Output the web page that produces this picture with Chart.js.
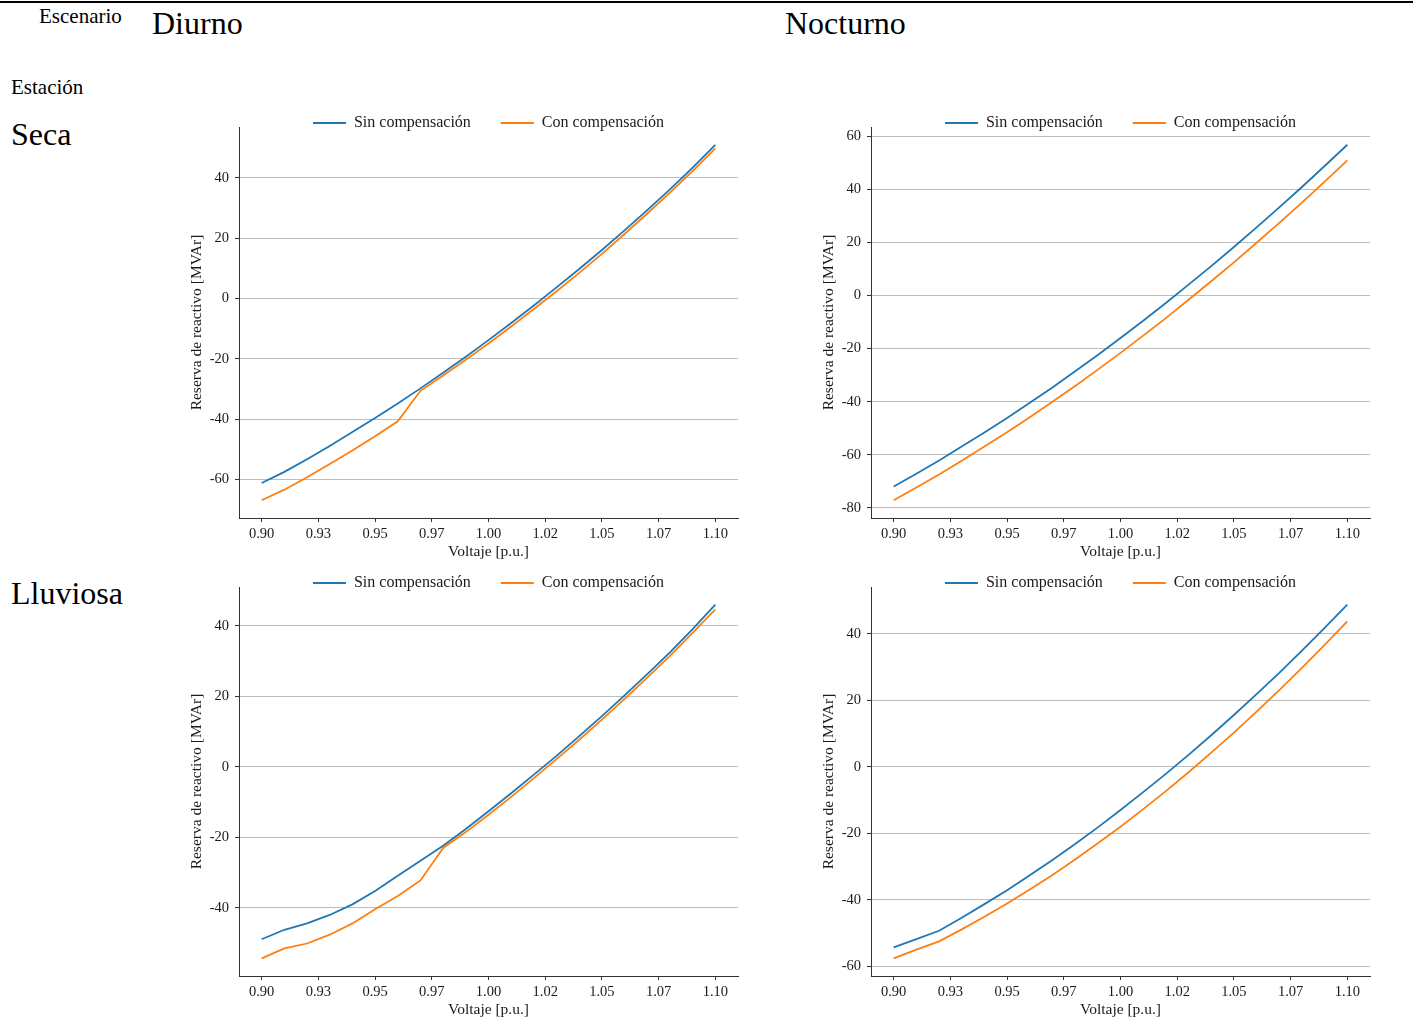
<!DOCTYPE html>
<html>
<head>
<meta charset="utf-8">
<script src="https://cdn.jsdelivr.net/npm/chart.js@4.4.1/dist/chart.umd.min.js"></script>
<style>
html,body{margin:0;padding:0;background:#fff;}
body{width:1413px;height:1032px;position:relative;overflow:hidden;font-family:'Liberation Serif','Times New Roman',serif;color:#000;}
.rule{position:absolute;left:0;top:1px;width:1413px;height:2px;background:#000;}
.lbl{position:absolute;line-height:1;white-space:nowrap;}
canvas{position:absolute;}
</style>
</head>
<body>
<div class="rule"></div>
<div class="lbl" style="left:39px;top:6px;font-size:21px">Escenario</div>
<div class="lbl" style="left:152px;top:7px;font-size:32px">Diurno</div>
<div class="lbl" style="left:785px;top:7px;font-size:32px">Nocturno</div>
<div class="lbl" style="left:11px;top:77px;font-size:21px">Estación</div>
<div class="lbl" style="left:11px;top:118px;font-size:32px">Seca</div>
<div class="lbl" style="left:11px;top:577px;font-size:32px">Lluviosa</div>
<canvas id="c_seca_diurno"></canvas>
<canvas id="c_seca_nocturno"></canvas>
<canvas id="c_lluviosa_diurno"></canvas>
<canvas id="c_lluviosa_nocturno"></canvas>
<script>
// ---------------- data ----------------
const VOLTAGE = [0.90,0.91,0.92,0.93,0.94,0.95,0.96,0.97,0.98,0.99,1.00,1.01,1.02,1.03,1.04,1.05,1.06,1.07,1.08,1.09,1.10];
const X_TICKS = [0.900,0.925,0.950,0.975,1.000,1.025,1.050,1.075,1.100];
const X_TICK_LABELS = ['0.90','0.93','0.95','0.97','1.00','1.02','1.05','1.07','1.10'];
const SERIES_NAMES = ['Sin compensación','Con compensación'];
const X_TITLE = 'Voltaje [p.u.]';
const Y_TITLE = 'Reserva de reactivo [MVAr]';

const SECA_DIURNO_SIN = [-61.2,-57.5,-53.3,-48.9,-44.3,-39.6,-34.8,-29.8,-24.6,-19.3,-13.8,-8.1,-2.3,3.7,9.8,16.1,22.6,29.3,36.2,43.4,51.0];
const SECA_DIURNO_CON = [-66.9,-63.4,-59.3,-54.9,-50.4,-45.7,-40.7,-30.6,-25.5,-20.3,-14.9,-9.3,-3.5,2.4,8.5,14.8,21.4,28.2,35.1,42.3,49.8];

const SECA_NOCTURNO_SIN = [-71.9,-67.1,-62.1,-56.9,-51.6,-46.1,-40.4,-34.6,-28.5,-22.4,-16.0,-9.5,-2.8,4.1,11.1,18.3,25.7,33.2,40.9,48.8,56.8];
const SECA_NOCTURNO_CON = [-77.1,-72.3,-67.4,-62.2,-56.9,-51.5,-45.8,-40.0,-34.1,-27.9,-21.6,-15.1,-8.5,-1.6,5.4,12.5,19.9,27.4,35.0,42.9,50.9];

const LLUVIOSA_DIURNO_SIN = [-48.9,-46.2,-44.4,-42.0,-39.0,-35.2,-30.9,-26.6,-22.4,-17.6,-12.6,-7.5,-2.2,3.1,8.7,14.4,20.3,26.3,32.5,39.1,46.0];
const LLUVIOSA_DIURNO_CON = [-54.3,-51.5,-50.1,-47.6,-44.4,-40.4,-36.6,-32.2,-23.0,-18.5,-13.6,-8.5,-3.2,2.2,7.7,13.4,19.3,25.3,31.5,38.0,44.7];

const LLUVIOSA_NOCTURNO_SIN = [-54.3,-51.8,-49.3,-45.4,-41.3,-37.1,-32.6,-28.0,-23.2,-18.2,-13.0,-7.6,-2.1,3.6,9.5,15.6,21.9,28.3,35.0,41.8,48.8];
const LLUVIOSA_NOCTURNO_CON = [-57.6,-55.0,-52.5,-48.9,-45.1,-41.1,-36.9,-32.5,-27.9,-23.0,-18.0,-12.7,-7.3,-1.6,4.3,10.3,16.6,23.1,29.8,36.7,43.8];

// ---------------- style / layout ----------------
const FONT = "'Liberation Serif','Times New Roman',serif";
const BLUE = '#1f77b4';
const ORANGE = '#ff7f0e';
const LEG_H = 20;
const LEG_FONT = 16;
const LEG_PAD = 30;

const legendPlace = {
  id: 'legendPlace',
  beforeLayout(chart) {
    const lg = chart.legend;
    if (lg && !lg.__patched) {
      const orig = lg.fit;
      lg.fit = function () { orig.call(this); this.height = LEG_H; };
      lg.__patched = true;
    }
  },
  afterLayout(chart) {
    const lg = chart.legend;
    if (!lg) return;
    const ca = chart.chartArea;
    lg.top = ca.top - 4 - LEG_PAD - LEG_FONT / 2;
    lg.bottom = ca.top + 14;
  }
};

function pad5(arrs) {
  let lo = Infinity, hi = -Infinity;
  arrs.forEach(a => a.forEach(v => { lo = Math.min(lo, v); hi = Math.max(hi, v); }));
  const r = hi - lo;
  return [lo - 0.05 * r, hi + 0.05 * r];
}

function makeChart(id, plot, sin, con) {
  const cv = document.getElementById(id);
  const cl = plot.l - 59, ct = plot.t - LEG_H, cr = plot.r + 7, cb = plot.b + 48;
  cv.style.left = cl + 'px';
  cv.style.top = ct + 'px';
  cv.width = cr - cl;
  cv.height = cb - ct;
  cv.style.width = (cr - cl) + 'px';
  cv.style.height = (cb - ct) + 'px';

  const [ymin, ymax] = pad5([sin, con]);
  const [xmin, xmax] = pad5([VOLTAGE]);
  const yTicks = [];
  for (let v = Math.ceil(ymin / 20) * 20; v <= ymax; v += 20) yTicks.push(v);

  const tickFont = { family: FONT, size: 14.5 };
  const titleFont = { family: FONT, size: 15.5 };

  new Chart(cv, {
    type: 'line',
    data: {
      datasets: [
        { label: SERIES_NAMES[0], data: VOLTAGE.map((x, i) => ({ x, y: sin[i] })),
          borderColor: BLUE, backgroundColor: BLUE, borderWidth: 1.8, pointRadius: 0, tension: 0, fill: false, order: 2 },
        { label: SERIES_NAMES[1], data: VOLTAGE.map((x, i) => ({ x, y: con[i] })),
          borderColor: ORANGE, backgroundColor: ORANGE, borderWidth: 1.8, pointRadius: 0, tension: 0, fill: false, order: 1 }
      ]
    },
    options: {
      responsive: false,
      animation: false,
      devicePixelRatio: 1,
      layout: { padding: { left: 4, right: 7, top: 0, bottom: 1 } },
      plugins: {
        tooltip: { enabled: false },
        legend: {
          position: 'top',
          fullSize: false,
          labels: {
            usePointStyle: true,
            pointStyle: 'line',
            pointStyleWidth: 33,
            boxHeight: 2,
            padding: LEG_PAD,
            color: '#1a1a1a',
            font: { family: FONT, size: LEG_FONT },
            sort: (a, b) => a.datasetIndex - b.datasetIndex
          }
        }
      },
      scales: {
        x: {
          type: 'linear',
          min: xmin, max: xmax,
          afterFit(s) { s.height = 47; },
          afterBuildTicks(s) { s.ticks = X_TICKS.map(v => ({ value: v })); },
          ticks: { autoSkip: false, maxRotation: 0, minRotation: 0, padding: 3, color: '#1a1a1a', font: tickFont,
                   callback: (v, i) => X_TICK_LABELS[i] },
          grid: { drawOnChartArea: false, drawTicks: true, tickLength: 4, tickColor: '#333' },
          border: { display: true, color: '#333', width: 1 },
          title: { display: true, text: X_TITLE, color: '#1a1a1a', font: titleFont, padding: { top: 4, bottom: 4 } }
        },
        y: {
          type: 'linear',
          min: ymin, max: ymax,
          afterFit(s) { s.width = 55; },
          afterBuildTicks(s) { s.ticks = yTicks.map(v => ({ value: v })); },
          ticks: { padding: 6, color: '#1a1a1a', font: tickFont, callback: v => String(v) },
          grid: { color: '#bdbdbd', lineWidth: 1, drawTicks: true, tickLength: 4, tickColor: '#333' },
          border: { display: true, color: '#333', width: 1 },
          title: { display: true, text: Y_TITLE, color: '#1a1a1a', font: titleFont, padding: { top: 4, bottom: 4 } }
        }
      }
    },
    plugins: [legendPlace]
  });
}

makeChart('c_seca_diurno', { l: 239, t: 127, r: 738, b: 518 }, SECA_DIURNO_SIN, SECA_DIURNO_CON);
makeChart('c_seca_nocturno', { l: 871, t: 127, r: 1370, b: 518 }, SECA_NOCTURNO_SIN, SECA_NOCTURNO_CON);
makeChart('c_lluviosa_diurno', { l: 239, t: 587, r: 738, b: 976 }, LLUVIOSA_DIURNO_SIN, LLUVIOSA_DIURNO_CON);
makeChart('c_lluviosa_nocturno', { l: 871, t: 587, r: 1370, b: 976 }, LLUVIOSA_NOCTURNO_SIN, LLUVIOSA_NOCTURNO_CON);
</script>
</body>
</html>
